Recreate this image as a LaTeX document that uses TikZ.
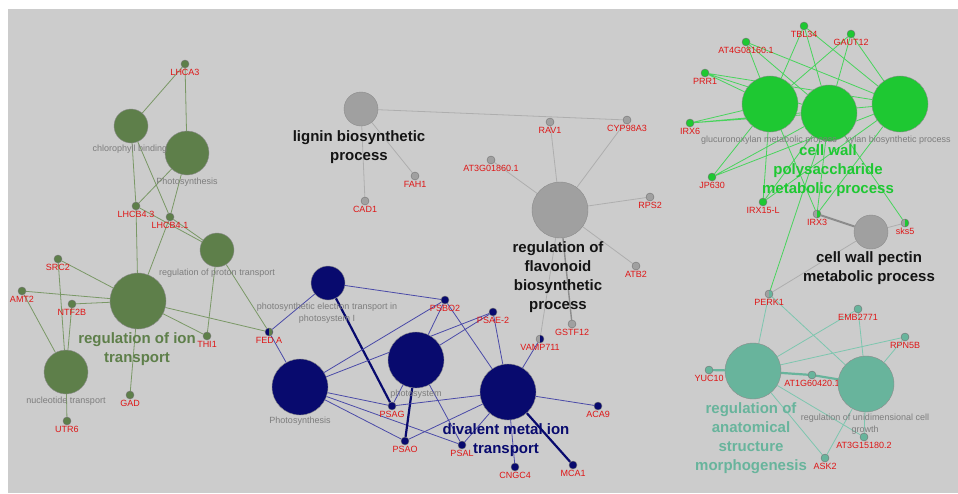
\documentclass[tikz,border=0pt]{standalone}
\usepackage{fontspec}
\setmainfont{Liberation Sans}
\usetikzlibrary{positioning}

\definecolor{bggray}{RGB}{204,204,204}
\definecolor{olivec}{RGB}{94,127,74}
\definecolor{olivel}{RGB}{122,152,102}
\definecolor{navyc}{RGB}{8,10,110}
\definecolor{navyl}{RGB}{74,74,168}
\definecolor{grayc}{RGB}{160,160,160}
\definecolor{grayl}{RGB}{174,174,174}
\definecolor{graydk}{RGB}{140,140,140}
\definecolor{greenc}{RGB}{30,200,50}
\definecolor{greenl}{RGB}{72,212,92}
\definecolor{tealc}{RGB}{104,180,156}
\definecolor{teall}{RGB}{125,198,175}
\definecolor{genered}{RGB}{222,22,22}
\definecolor{termtxt}{RGB}{125,125,125}
\definecolor{blacktxt}{RGB}{20,20,20}

\pgfdeclarelayer{bg}
\pgfdeclarelayer{edges}
\pgfsetlayers{bg,edges,main}

\tikzstyle{gene} = [circle, minimum size=8pt, inner sep=0pt, draw=black!55, line width=0.4pt, label distance=1pt]
\tikzstyle{glabel} = [text=genered, font=\fontsize{9}{9}\selectfont, inner sep=1pt]
\tikzstyle{term} = [circle, inner sep=0pt, draw=black!45, line width=0.4pt]
\tikzstyle{r17} = [minimum size=34pt]
\tikzstyle{r22} = [minimum size=44pt]
\tikzstyle{r28} = [minimum size=56pt]
\tikzstyle{termlabel} = [text=termtxt, font=\fontsize{9}{11.5}\selectfont, align=center, inner sep=0pt]
\tikzstyle{grouplabel} = [font=\fontsize{15}{19}\selectfont\bfseries, align=center, inner sep=0pt]
\tikzstyle{link} = [line width=0.8pt]
\tikzstyle{heavylink} = [line width=2.2pt]
\tikzset{half/.style 2 args={fill=#1, path picture={\fill[#2] (path picture bounding box.north) rectangle (path picture bounding box.south east);}}}

\begin{document}
\begin{tikzpicture}[x=1pt, y=-1pt]
	\useasboundingbox (0,0) rectangle (958,493);
	\begin{pgfonlayer}{bg}
		\fill [bggray] (8,9) rectangle (958,493);
	\end{pgfonlayer}

	% genes
	\node (lhca3) [gene, fill=olivec, label={[glabel]below:LHCA3}] at (185,64) {};
	\node (lhcb43) [gene, fill=olivec, label={[glabel]below:LHCB4.3}] at (136,206) {};
	\node (lhcb41) [gene, fill=olivec, label={[glabel]below:LHCB4.1}] at (170,217) {};
	\node (src2) [gene, fill=olivec, label={[glabel]below:SRC2}] at (58,259) {};
	\node (amt2) [gene, fill=olivec, label={[glabel]below:AMT2}] at (22,291) {};
	\node (ntf2b) [gene, fill=olivec, label={[glabel]below:NTF2B}] at (72,304) {};
	\node (gad) [gene, fill=olivec, label={[glabel]below:GAD}] at (130,395) {};
	\node (utr6) [gene, fill=olivec, label={[glabel]below:UTR6}] at (67,421) {};
	\node (thi1) [gene, fill=olivec, label={[glabel]below:THI1}] at (207,336) {};
	\node (feda) [gene, half={navyc}{olivec}, label={[glabel]below:FED A}] at (269,332) {};

	\node (psbo2) [gene, fill=navyc, label={[glabel]below:PSBO2}] at (445,300) {};
	\node (psae2) [gene, fill=navyc, label={[glabel]below:PSAE-2}] at (493,312) {};
	\node (psag) [gene, fill=navyc, label={[glabel]below:PSAG}] at (392,406) {};
	\node (psao) [gene, fill=navyc, label={[glabel]below:PSAO}] at (405,441) {};
	\node (psal) [gene, fill=navyc, label={[glabel]below:PSAL}] at (462,445) {};
	\node (aca9) [gene, fill=navyc, label={[glabel]below:ACA9}] at (598,406) {};
	\node (cngc4) [gene, fill=navyc, label={[glabel]below:CNGC4}] at (515,467) {};
	\node (mca1) [gene, fill=navyc, label={[glabel]below:MCA1}] at (573,465) {};
	\node (vamp711) [gene, half={grayc}{navyc}, label={[glabel]below:VAMP711}] at (540,339) {};

	\node (cad1) [gene, fill=grayc, label={[glabel]below:CAD1}] at (365,201) {};
	\node (fah1) [gene, fill=grayc, label={[glabel]below:FAH1}] at (415,176) {};
	\node (cyp98a3) [gene, fill=grayc, label={[glabel]below:CYP98A3}] at (627,120) {};
	\node (rav1) [gene, fill=grayc, label={[glabel]below:RAV1}] at (550,122) {};
	\node (at3g01860) [gene, fill=grayc, label={[glabel]below:AT3G01860.1}] at (491,160) {};
	\node (rps2) [gene, fill=grayc, label={[glabel]below:RPS2}] at (650,197) {};
	\node (atb2) [gene, fill=grayc, label={[glabel]below:ATB2}] at (636,266) {};
	\node (gstf12) [gene, fill=grayc, label={[glabel]below:GSTF12}] at (572,324) {};

	\node (tbl34) [gene, fill=greenc, label={[glabel]below:TBL34}] at (804,26) {};
	\node (gaut12) [gene, fill=greenc, label={[glabel]below:GAUT12}] at (851,34) {};
	\node (at4g08160) [gene, fill=greenc, label={[glabel]below:AT4G08160.1}] at (746,42) {};
	\node (prr1) [gene, fill=greenc, label={[glabel]below:PRR1}] at (705,73) {};
	\node (irx6) [gene, fill=greenc, label={[glabel]below:IRX6}] at (690,123) {};
	\node (jp630) [gene, fill=greenc, label={[glabel]below:JP630}] at (712,177) {};
	\node (irx15l) [gene, fill=greenc, label={[glabel]below:IRX15-L}] at (763,202) {};
	\node (irx3) [gene, half={grayc}{greenc}, label={[glabel]below:IRX3}] at (817,214) {};
	\node (sks5) [gene, half={grayc}{greenc}, label={[glabel]below:sks5}] at (905,223) {};

	\node (perk1) [gene, half={grayc}{tealc}, label={[glabel]below:PERK1}] at (769,294) {};
	\node (emb2771) [gene, fill=tealc, label={[glabel]below:EMB2771}] at (858,309) {};
	\node (rpn5b) [gene, fill=tealc, label={[glabel]below:RPN5B}] at (905,337) {};
	\node (yuc10) [gene, fill=tealc, label={[glabel]below:YUC10}] at (709,370) {};
	\node (at1g60420) [gene, fill=tealc, label={[glabel]below:AT1G60420.1}] at (812,375) {};
	\node (at3g15180) [gene, fill=tealc, label={[glabel]below:AT3G15180.2}] at (864,437) {};
	\node (ask2) [gene, fill=tealc, label={[glabel]below:ASK2}] at (825,458) {};

	% terms
	\node (chlbind) [term, r17, fill=olivec] at (131,126) {};
	\node (photog) [term, r22, fill=olivec] at (187,153) {};
	\node (protontr) [term, r17, fill=olivec] at (217,250) {};
	\node (iontr) [term, r28, fill=olivec] at (138,301) {};
	\node (nucltr) [term, r22, fill=olivec] at (66,372) {};

	\node (petpsi) [term, r17, fill=navyc] at (328,283) {};
	\node (photon) [term, r28, fill=navyc] at (300,387) {};
	\node (psystem) [term, r28, fill=navyc] at (416,360) {};
	\node (divalent) [term, r28, fill=navyc] at (508,392) {};

	\node (lignin) [term, r17, fill=grayc] at (361,109) {};
	\node (flavon) [term, r28, fill=grayc] at (560,210) {};
	\node (pectin) [term, r17, fill=grayc] at (871,232) {};

	\node (glucx) [term, r28, fill=greenc] at (770,104) {};
	\node (cwpoly) [term, r28, fill=greenc] at (829,113) {};
	\node (xylan) [term, r28, fill=greenc] at (900,104) {};

	\node (anatom) [term, r28, fill=tealc] at (753,371) {};
	\node (unidim) [term, r28, fill=tealc] at (866,384) {};

	% term texts
	\node (chlbindtxt) [termlabel] at (130,149) {chlorophyll binding};
	\node (photogtxt) [termlabel] at (187,182) {Photosynthesis};
	\node (protontrtxt) [termlabel] at (217,273) {regulation of proton transport};
	\node (nucltrtxt) [termlabel] at (66,401) {nucleotide transport};
	\node (petpsitxt) [termlabel] at (327,313) {photosynthetic electron transport in\\photosystem I};
	\node (photontxt) [termlabel] at (300,421) {Photosynthesis};
	\node (psystemtxt) [termlabel] at (416,394) {photosystem};
	\node (glucxtxt) [termlabel] at (769,140) {glucuronoxylan metabolic process};
	\node (xylantxt) [termlabel] at (898,140) {xylan biosynthetic process};
	\node (unidimtxt) [termlabel] at (865,424) {regulation of unidimensional cell\\growth};

	\node (iontrtxt) [grouplabel, text=olivec] at (137,349) {regulation of ion\\transport};
	\node (divalenttxt) [grouplabel, text=navyc] at (506,440) {divalent metal ion\\transport};
	\node (lignintxt) [grouplabel, text=blacktxt] at (359,147) {lignin biosynthetic\\process};
	\node (flavontxt) [grouplabel, text=blacktxt] at (558,277) {regulation of\\flavonoid\\biosynthetic\\process};
	\node (pectintxt) [grouplabel, text=blacktxt] at (869,268) {cell wall pectin\\metabolic process};
	\node (cwpolytxt) [grouplabel, text=greenc] at (828,171) {cell wall\\polysaccharide\\metabolic process};
	\node (anatomtxt) [grouplabel, text=tealc] at (751,438) {regulation of\\anatomical\\structure\\morphogenesis};

	% connectors
	\begin{pgfonlayer}{edges}
		\draw [link, olivel] (lhca3) -- (chlbind) (lhca3) -- (photog);
		\draw [link, olivel] (chlbind) -- (lhcb43) (chlbind) -- (lhcb41);
		\draw [link, olivel] (photog) -- (lhcb43) (photog) -- (lhcb41);
		\draw [link, olivel] (lhcb43) -- (protontr) (lhcb41) -- (protontr);
		\draw [link, olivel] (lhcb43) -- (iontr) (lhcb41) -- (iontr);
		\draw [link, olivel] (protontr) -- (thi1) (protontr) -- (feda);
		\draw [link, olivel] (iontr) -- (src2) (iontr) -- (amt2) (iontr) -- (ntf2b);
		\draw [link, olivel] (iontr) -- (thi1) (iontr) -- (feda) (iontr) -- (gad);
		\draw [link, olivel] (src2) -- (nucltr) (amt2) -- (nucltr) (ntf2b) -- (nucltr);
		\draw [link, olivel] (nucltr) -- (utr6);

		\draw [link, navyl] (petpsi) -- (psbo2) (petpsi) -- (feda);
		\draw [heavylink, navyc] (petpsi) -- (psag);
		\draw [link, navyl] (feda) -- (photon);
		\draw [link, navyl] (photon) -- (psbo2) (photon) -- (psae2);
		\draw [link, navyl] (photon) -- (psag) (photon) -- (psao) (photon) -- (psal);
		\draw [link, navyl] (psystem) -- (psbo2) (psystem) -- (psae2);
		\draw [link, navyl] (psystem) -- (psag) (psystem) -- (psal);
		\draw [heavylink, navyc] (psystem) -- (psao);
		\draw [link, navyl] (divalent) -- (psbo2) (divalent) -- (psae2);
		\draw [link, navyl] (divalent) -- (psag) (divalent) -- (psao) (divalent) -- (psal);
		\draw [link, navyl] (divalent) -- (aca9) (divalent) -- (cngc4) (divalent) -- (vamp711);
		\draw [heavylink, navyc] (divalent) -- (mca1);

		\draw [link, grayl] (lignin) -- (cad1) (lignin) -- (fah1) (lignin) -- (cyp98a3);
		\draw [link, grayl] (flavon) -- (rav1) (flavon) -- (cyp98a3) (flavon) -- (at3g01860);
		\draw [link, grayl] (flavon) -- (rps2) (flavon) -- (atb2) (flavon) -- (vamp711);
		\draw [line width=1.4pt, graydk] (flavon) -- (gstf12);
		\draw [line width=2pt, graydk] (pectin) -- (irx3);
		\draw [link, grayl] (pectin) -- (sks5) (pectin) -- (perk1);

		\draw [link, greenl] (tbl34) -- (glucx) (tbl34) -- (cwpoly) (tbl34) -- (xylan);
		\draw [link, greenl] (gaut12) -- (glucx) (gaut12) -- (cwpoly) (gaut12) -- (xylan);
		\draw [link, greenl] (at4g08160) -- (glucx) (at4g08160) -- (cwpoly) (at4g08160) -- (xylan);
		\draw [link, greenl] (prr1) -- (glucx) (prr1) -- (cwpoly) (prr1) -- (xylan);
		\draw [link, greenl] (irx6) -- (glucx) (irx6) -- (cwpoly) (irx6) -- (xylan);
		\draw [link, greenl] (jp630) -- (glucx) (jp630) -- (cwpoly) (jp630) -- (xylan);
		\draw [link, greenl] (irx15l) -- (glucx) (irx15l) -- (cwpoly) (irx15l) -- (xylan);
		\draw [link, greenl] (irx3) -- (glucx) (irx3) -- (cwpoly) (irx3) -- (xylan);
		\draw [link, greenl] (sks5) -- (cwpoly) (perk1) -- (cwpoly);

		\draw [link, teall] (perk1) -- (anatom) (perk1) -- (unidim);
		\draw [link, teall] (emb2771) -- (anatom) (emb2771) -- (unidim);
		\draw [link, teall] (rpn5b) -- (anatom) (rpn5b) -- (unidim);
		\draw [heavylink, tealc] (yuc10) -- (anatom);
		\draw [heavylink, tealc] (at1g60420) -- (anatom) (at1g60420) -- (unidim);
		\draw [link, teall] (at3g15180) -- (anatom) (at3g15180) -- (unidim);
		\draw [link, teall] (ask2) -- (anatom) (ask2) -- (unidim);
	\end{pgfonlayer}
\end{tikzpicture}
\end{document}
